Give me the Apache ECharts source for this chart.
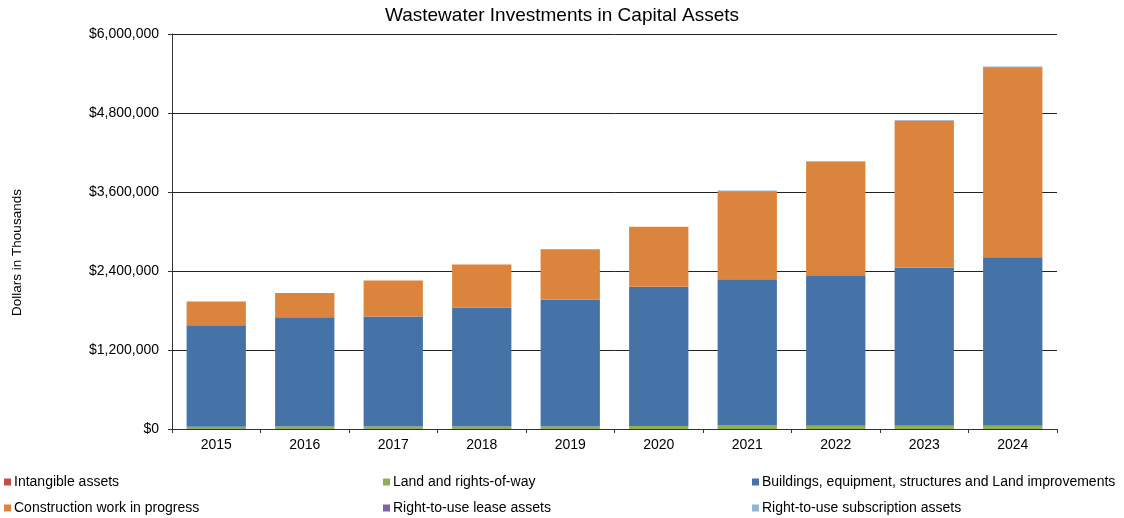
<!DOCTYPE html>
<html>
<head>
<meta charset="utf-8">
<script src="https://cdn.jsdelivr.net/npm/echarts@6/dist/echarts.min.js"></script>
<style>
  html, body { margin: 0; padding: 0; background: #fff; }
  #chart { width: 1124px; height: 518px; }
</style>
</head>
<body>
<div id="chart"></div>
<script>
// Wastewater capital assets, dollars in thousands
const years = ['2015', '2016', '2017', '2018', '2019', '2020', '2021', '2022', '2023', '2024'];
const intangible   = [1000, 1000, 1000, 1000, 1000, 1000, 1000, 1000, 1000, 1000];
const land         = [35000, 36000, 37000, 38000, 38000, 45000, 58000, 48000, 48000, 48000];
const buildings    = [1539000, 1659000, 1669000, 1805000, 1926000, 2116000, 2214000, 2276000, 2402000, 2559000];
const construction = [360000, 371000, 547000, 653000, 764000, 912000, 1340000, 1733000, 2230000, 2888000];
const leases       = [0, 0, 0, 0, 0, 0, 4000, 4000, 4000, 4000];
const subscription = [0, 0, 0, 0, 0, 0, 4000, 8000, 8000, 8000];
const yTicks = { min: 0, max: 6000000, step: 1200000 };

const font = 'Liberation Sans, Arial, sans-serif';
const seriesDefs = [
  { name: 'Intangible assets', data: intangible, color: '#c0504d' },
  { name: 'Land and rights-of-way', data: land, color: '#8db051' },
  { name: 'Buildings, equipment, structures and Land improvements', data: buildings, color: '#4673a7' },
  { name: 'Construction work in progress', data: construction, color: '#db843d' },
  { name: 'Right-to-use lease assets', data: leases, color: '#8064a2' },
  { name: 'Right-to-use subscription assets', data: subscription, color: '#95b3d7' }
];

// legend laid out as two rows of three fixed columns
const legendSlots = [
  [4, 475], [383, 475], [752, 475],
  [4, 501], [383, 501], [752, 501]
];

const chart = echarts.init(document.getElementById('chart'));
chart.setOption({
  animation: false,
  textStyle: { fontFamily: font },
  title: {
    text: 'Wastewater Investments in Capital Assets',
    left: 'center', top: 1,
    textStyle: { fontFamily: font, fontSize: 19, fontWeight: 'normal', color: '#000' }
  },
  legend: seriesDefs.map((s, i) => ({
    data: [s.name],
    left: legendSlots[i][0], top: legendSlots[i][1],
    padding: 0,
    icon: 'rect', itemWidth: 7, itemHeight: 7, itemGap: 0,
    selectedMode: false,
    textStyle: { fontFamily: font, fontSize: 14, color: '#000', padding: [0, 0, 0, -2] }
  })),
  grid: { left: 172, right: 67, top: 34, bottom: 89, containLabel: false, outerBoundsMode: 'none' },
  xAxis: {
    type: 'category',
    data: years,
    axisLine: { lineStyle: { color: '#333', width: 1 } },
    axisTick: { show: true, length: 4, lineStyle: { color: '#333' } },
    axisLabel: { fontFamily: font, fontSize: 14, color: '#000', margin: 9 }
  },
  yAxis: {
    type: 'value',
    min: yTicks.min, max: yTicks.max, interval: yTicks.step,
    name: 'Dollars in Thousands',
    nameLocation: 'middle', nameRotate: 90, nameGap: 148,
    nameTextStyle: { fontFamily: font, fontSize: 13.5, color: '#000', padding: [0, 42, 0, 0] },
    axisLine: { show: true, lineStyle: { color: '#333', width: 1 } },
    axisTick: { show: true, length: 4, lineStyle: { color: '#333' } },
    splitLine: { lineStyle: { color: '#222', width: 1 } },
    axisLabel: {
      fontFamily: font, fontSize: 14, color: '#000', margin: 13,
      formatter: v => '$' + v.toLocaleString('en-US')
    }
  },
  series: seriesDefs.map(s => ({
    name: s.name,
    type: 'bar',
    stack: 'total',
    barWidth: '67%',
    data: s.data,
    itemStyle: { color: s.color },
    emphasis: { disabled: true }
  }))
});
</script>
</body>
</html>
